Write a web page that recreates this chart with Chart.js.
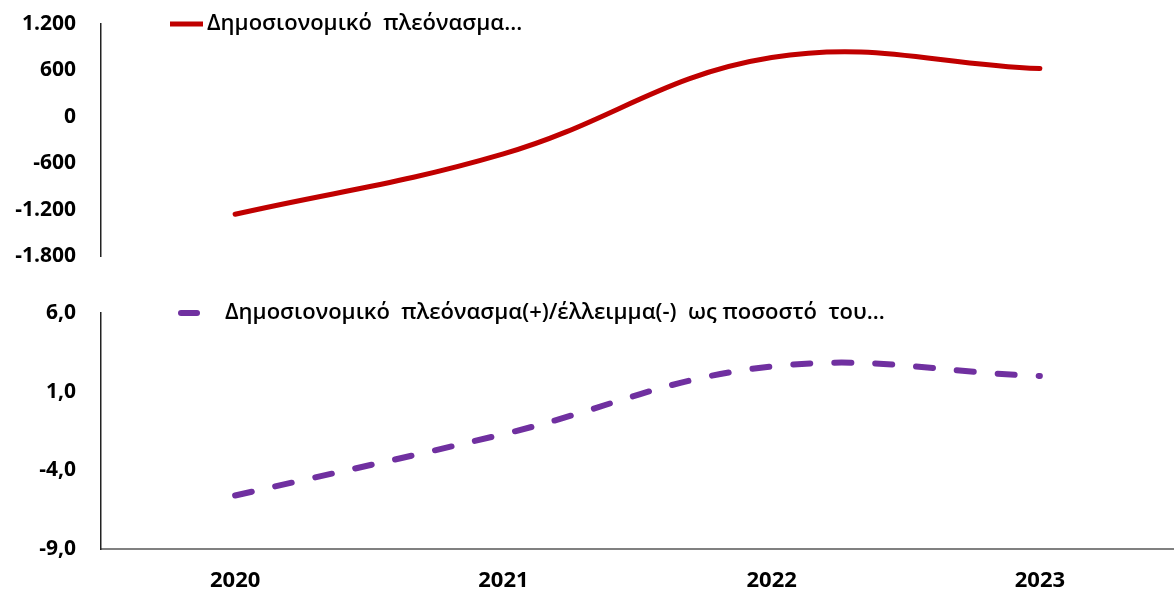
<!DOCTYPE html>
<html>
<head>
<meta charset="utf-8">
<script src="https://cdn.jsdelivr.net/npm/chart.js@4"></script>
<style>
  html, body { margin: 0; padding: 0; background: #fff; }
  #top { position: absolute; left: 0; top: 0; width: 1174px; height: 280px; }
  #bottom { position: absolute; left: 0; top: 290px; width: 1174px; height: 306px; }
</style>
</head>
<body>
<div id="top"><canvas id="amountChart"></canvas></div>
<div id="bottom"><canvas id="pctChart"></canvas></div>
<script>
const years = ['2020', '2021', '2022', '2023'];
const surplusAmount = [-1260, -480, 766, 623];
const surplusPct = [-5.6, -1.7, 2.6, 2.0];
const amountTicks = [-1800, -1200, -600, 0, 600, 1200];
const pctTicks = [-9, -4, 1, 6];
const amountLabel = 'Δημοσιονομικό  πλεόνασμα...';
const pctLabel = 'Δημοσιονομικό  πλεόνασμα(+)/έλλειμμα(-)  ως ποσοστό  του...';

const FONT = "'Open Sans', sans-serif";
const fmtThousands = n => (n < 0 ? '-' : '') + String(Math.abs(n)).replace(/\B(?=(\d{3})+(?!\d))/g, '.');
const fmtComma = n => n.toFixed(1).replace('.', ',');

// legend drawn inside the plot, like the original
const inlineLegend = {
  id: 'inlineLegend',
  afterDraw(chart, args, opts) {
    const ds = chart.data.datasets[0];
    const ctx = chart.ctx;
    ctx.save();
    ctx.strokeStyle = ds.borderColor;
    ctx.lineWidth = ds.borderWidth;
    ctx.lineCap = opts.cap || 'butt';
    ctx.beginPath();
    ctx.moveTo(opts.x1, opts.y);
    ctx.lineTo(opts.x2, opts.y);
    ctx.stroke();
    ctx.fillStyle = '#000';
    ctx.font = '600 22px ' + FONT;
    ctx.textBaseline = 'middle';
    ctx.fillText(ds.label, opts.textX, opts.y);
    ctx.restore();
  }
};

function yAxis(min, max, ticks, fmt) {
  return {
    min: min,
    max: max,
    afterBuildTicks: scale => { scale.ticks = ticks.map(v => ({ value: v })); },
    afterFit: scale => {
      scale.width = 101;
      // layout padding alone sets the plot height
      scale.paddingTop = 0;
      scale.paddingBottom = 0;
    },
    grid: { display: false, drawTicks: false },
    border: { display: true, color: '#222', width: 1.5 },
    ticks: {
      padding: 25,
      color: '#000',
      font: { family: FONT, size: 21, weight: 'bold' },
      callback: v => fmt(v)
    }
  };
}

new Chart(document.getElementById('amountChart'), {
  type: 'line',
  data: {
    labels: years,
    datasets: [{
      label: amountLabel,
      data: surplusAmount,
      borderColor: '#C00000',
      borderWidth: 5,
      tension: 0.4,
      pointRadius: 0,
      borderCapStyle: 'round'
    }]
  },
  options: {
    responsive: true,
    maintainAspectRatio: false,
    animation: false,
    layout: { padding: { top: 24, bottom: 24, left: 0, right: 0 } },
    plugins: {
      legend: { display: false },
      tooltip: { enabled: false },
      inlineLegend: { x1: 170, x2: 203, y: 24, textX: 207 }
    },
    scales: {
      x: { display: false, offset: true },
      y: yAxis(-1800, 1200, amountTicks, fmtThousands)
    }
  },
  plugins: [inlineLegend]
});

new Chart(document.getElementById('pctChart'), {
  type: 'line',
  data: {
    labels: years,
    datasets: [{
      label: pctLabel,
      data: surplusPct,
      borderColor: '#7030A0',
      borderWidth: 6,
      borderDash: [17, 24],
      borderCapStyle: 'round',
      tension: 0.4,
      pointRadius: 0
    }]
  },
  options: {
    responsive: true,
    maintainAspectRatio: false,
    animation: false,
    layout: { padding: { top: 23, bottom: 0, left: 0, right: 0 } },
    plugins: {
      legend: { display: false },
      tooltip: { enabled: false },
      inlineLegend: { x1: 181, x2: 197, y: 23, textX: 225, cap: 'round' }
    },
    scales: {
      x: {
        offset: true,
        afterFit: scale => { scale.height = 47; },
        grid: { display: false, drawTicks: false },
        border: { display: true, color: '#808080', width: 2 },
        ticks: {
          padding: 19,
          color: '#000',
          font: { family: FONT, size: 22, weight: 'bold' }
        }
      },
      y: yAxis(-9, 6, pctTicks, fmtComma)
    }
  },
  plugins: [inlineLegend]
});
</script>
</body>
</html>
